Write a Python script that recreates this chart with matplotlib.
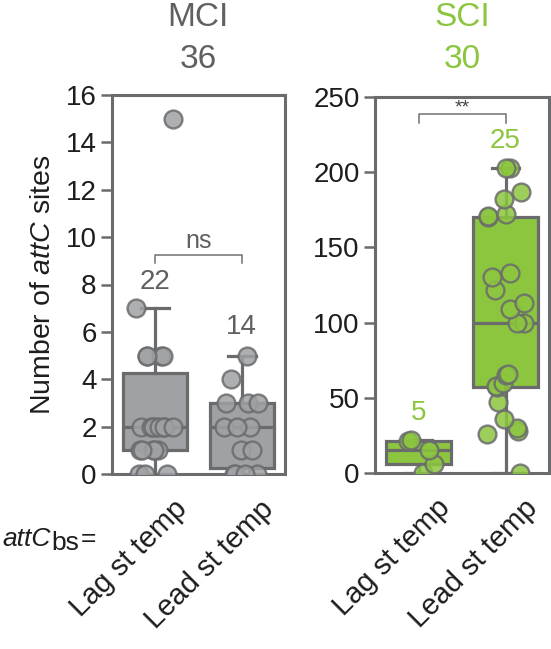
import numpy as np
import matplotlib
matplotlib.use("Agg")
import matplotlib.pyplot as plt
import matplotlib.transforms as mtransforms

plt.rcParams['font.family'] = ['Liberation Sans', 'DejaVu Sans']
plt.rcParams['mathtext.fontset'] = 'custom'
plt.rcParams['mathtext.rm'] = 'Liberation Sans'
plt.rcParams['mathtext.it'] = 'Liberation Sans:italic'

# ---- data ----
categories = ["Lag st temp", "Lead st temp"]
mci_lag = [0, 0, 0, 1, 1, 1, 1, 1, 2, 2, 2, 2, 2, 2, 2, 2, 5, 5, 5, 5, 7, 15]
mci_lead = [0, 0, 0, 0, 1, 1, 2, 2, 2, 3, 3, 3, 4, 5]
sci_lag = [0, 6, 15, 21, 22]
sci_lead = [0, 26, 28, 30, 36, 47, 57, 58, 60, 65, 66, 100, 100, 109, 113, 122,
            130, 133, 170, 171, 172, 182, 187, 203, 203]
panel_titles = ["MCI", "SCI"]
panel_totals = ["36", "30"]
mci_yticks = [0, 2, 4, 6, 8, 10, 12, 14, 16]
sci_yticks = [0, 50, 100, 150, 200, 250]
sig_labels = ["ns", "**"]

GRAY_FILL = "#9fa1a4"
GREEN_FILL = "#8cc63f"
EDGE = "#6a6b6d"
TXT_GRAY = "#5f6062"
TXT_GREEN = "#8cc63f"
BLACK = "#1e1c1d"

W, H = 551, 649
fig = plt.figure(figsize=(W / 100, H / 100), dpi=100)

def px_axes(x0, y0, x1, y1):
    return fig.add_axes([x0 / W, 1 - y1 / H, (x1 - x0) / W, (y1 - y0) / H])

ax1 = px_axes(112, 95, 285, 474)
ax2 = px_axes(375, 97, 549, 473)

def draw_panel(ax, groups, fill, ylim, yticks, seed):
    ax.boxplot(groups, positions=[0, 1], widths=0.74, whis=1.5,
               showfliers=False, patch_artist=True,
               boxprops=dict(facecolor=fill, edgecolor=EDGE, linewidth=2.3),
               medianprops=dict(color=EDGE, linewidth=2.3),
               whiskerprops=dict(color=EDGE, linewidth=2.3),
               capprops=dict(color=EDGE, linewidth=2.3),
               capwidths=0.32, zorder=2)
    rng = np.random.default_rng(seed)
    for i, g in enumerate(groups):
        g = np.asarray(g, dtype=float)
        xj = i + rng.uniform(-0.22, 0.22, size=len(g))
        ax.scatter(xj, g, s=165, facecolor=fill, edgecolor=EDGE, linewidth=1.7,
                   alpha=0.85, zorder=3, clip_on=True)
    ax.set_xlim(-0.5, 1.5)
    ax.set_ylim(*ylim)
    ax.set_yticks(yticks)
    ax.set_xticks([0, 1])
    ax.set_xticklabels(categories, rotation=45, ha='right', va='top',
                       rotation_mode='anchor', fontsize=21, color=BLACK)
    ax.tick_params(axis='x', length=0, pad=15)
    ax.tick_params(axis='y', length=8, width=1.8, color=EDGE, labelsize=20,
                   labelcolor=BLACK, pad=3)
    off = mtransforms.ScaledTranslation(12.5 / 72, 0, fig.dpi_scale_trans)
    for lab in ax.get_xticklabels():
        lab.set_transform(lab.get_transform() + off)
    for sp in ax.spines.values():
        sp.set_color(EDGE)
        sp.set_linewidth(2.2)

draw_panel(ax1, [mci_lag, mci_lead], GRAY_FILL, (0, 16), mci_yticks, 3)
draw_panel(ax2, [sci_lag, sci_lead], GREEN_FILL, (0, 250), sci_yticks, 7)

ax1.set_ylabel("Number of $\\mathit{attC}$ sites", fontsize=20.5, color=BLACK, labelpad=7)

# counts above boxes
ax1.text(0, 8.1, str(len(mci_lag)), ha='center', va='center', fontsize=20, color=TXT_GRAY)
ax1.text(1, 6.2, str(len(mci_lead)), ha='center', va='center', fontsize=20, color=TXT_GRAY)
ax2.text(0, 40, str(len(sci_lag)), ha='center', va='center', fontsize=20, color=TXT_GREEN)
ax2.text(1, 221, str(len(sci_lead)), ha='center', va='center', fontsize=20, color=TXT_GREEN)

# significance brackets
ax1.plot([0, 0, 1, 1], [8.9, 9.25, 9.25, 8.9], color='#707070', lw=1.1)
ax1.text(0.5, 9.85, sig_labels[0], ha='center', va='center', fontsize=18, color=TXT_GRAY)
ax2.plot([0, 0, 1, 1], [233, 239, 239, 233], color='#707070', lw=1.1)
ax2.text(0.5, 243, sig_labels[1], ha='center', va='center', fontsize=14, color='#444444')

# titles
fig.text(198 / W, 1 - 17 / H, panel_titles[0], ha='center', va='center', fontsize=24, color=TXT_GRAY)
fig.text(198 / W, 1 - 59 / H, panel_totals[0], ha='center', va='center', fontsize=24, color=TXT_GRAY)
fig.text(462 / W, 1 - 17 / H, panel_titles[1], ha='center', va='center', fontsize=24, color=TXT_GREEN)
fig.text(462 / W, 1 - 59 / H, panel_totals[1], ha='center', va='center', fontsize=24, color=TXT_GREEN)

# attC_bs= label
renderer = fig.canvas.get_renderer()
t1 = fig.text(2 / W, 1 - 546 / H, "attC", ha='left', va='baseline', fontsize=19,
              style='italic', color=BLACK)
x_end = t1.get_window_extent(renderer).x1
t2 = fig.text((x_end + 1) / W, 1 - 550 / H, "bs", ha='left', va='baseline', fontsize=19, color=BLACK)
x_end2 = t2.get_window_extent(renderer).x1
fig.text((x_end2 + 1) / W, 1 - 546 / H, "=", ha='left', va='baseline', fontsize=19, color=BLACK)

fig.savefig("out.png", dpi=100)
